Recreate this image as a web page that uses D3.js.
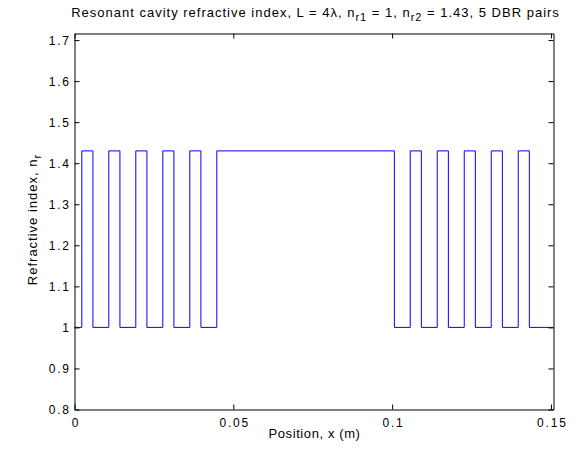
<!DOCTYPE html>
<html>
<head>
<meta charset="utf-8">
<script src="https://cdn.jsdelivr.net/npm/d3@7"></script>
<style>
  html, body { margin: 0; padding: 0; background: #fff; }
  svg { display: block; font-family: "Liberation Sans", Arial, Helvetica, sans-serif; }
</style>
</head>
<body>
<svg id="chart" width="576" height="451"></svg>
<script>
// Step profile: position where each layer starts, and its refractive index
const positions = [0, 0.0023, 0.0058, 0.0108, 0.0143, 0.0193, 0.0228, 0.0278, 0.0313, 0.0363, 0.0398,
                   0.0448, 0.1007, 0.1057, 0.1092, 0.1142, 0.1177, 0.1227, 0.1262, 0.1312, 0.1347, 0.1397, 0.1432, 0.1508];
const indexValues = [1, 1.43, 1, 1.43, 1, 1.43, 1, 1.43, 1, 1.43, 1,
                     1.43, 1, 1.43, 1, 1.43, 1, 1.43, 1, 1.43, 1, 1.43, 1, 1];
const xTicks = [0, 0.05, 0.1, 0.15];
const xTickLabels = ["0", "0.05", "0.1", "0.15"];
const yTicks = [0.8, 0.9, 1.0, 1.1, 1.2, 1.3, 1.4, 1.5, 1.6, 1.7];
const yTickLabels = ["0.8", "0.9", "1", "1.1", "1.2", "1.3", "1.4", "1.5", "1.6", "1.7"];
const xDomain = [0, 0.1508];
const yDomain = [0.8, 1.716];

const svg = d3.select("#chart");
const mLeft = 74.5, mRight = 553.5, mTop = 33.5, mBottom = 409.5;

const x = d3.scaleLinear().domain(xDomain).range([mLeft, mRight]);
const y = d3.scaleLinear().domain(yDomain).range([mBottom, mTop]);

svg.append("rect").attr("width", 576).attr("height", 451).attr("fill", "#fff");

// data line
const pts = positions.map((p, i) => [p, indexValues[i]]);
const line = d3.line().x(d => x(d[0])).y(d => y(d[1])).curve(d3.curveStepAfter);
svg.append("path").datum(pts)
  .attr("d", line)
  .attr("fill", "none")
  .attr("stroke", "#0000ff")
  .attr("stroke-width", 1);

const tickLen = 5;
const axisColor = "#000";
const tickLS = 1.8;

const xAxisB = d3.axisBottom(x).tickValues(xTicks).tickFormat((d, i) => xTickLabels[i])
  .tickSizeInner(-tickLen).tickSizeOuter(0).tickPadding(9);
const gB = svg.append("g").attr("transform", `translate(0,${mBottom})`).call(xAxisB);
const xAxisT = d3.axisTop(x).tickValues(xTicks).tickFormat("")
  .tickSizeInner(-tickLen).tickSizeOuter(0);
const gT = svg.append("g").attr("transform", `translate(0,${mTop})`).call(xAxisT);

const yAxisL = d3.axisLeft(y).tickValues(yTicks).tickFormat((d, i) => yTickLabels[i])
  .tickSizeInner(-tickLen).tickSizeOuter(0).tickPadding(5.5 - tickLS);
const gL = svg.append("g").attr("transform", `translate(${mLeft},0)`).call(yAxisL);
const yAxisR = d3.axisRight(y).tickValues(yTicks).tickFormat("")
  .tickSizeInner(-tickLen).tickSizeOuter(0);
const gR = svg.append("g").attr("transform", `translate(${mRight},0)`).call(yAxisR);

[gB, gT, gL, gR].forEach(g => {
  g.select(".domain").attr("stroke", axisColor).attr("stroke-width", 1);
  g.selectAll(".tick line").attr("stroke", axisColor);
  g.selectAll(".tick text").attr("fill", "#000")
    .style("font-size", "12px")
    .style("letter-spacing", tickLS + "px")
    .style("font-family", "'Liberation Sans', Arial, Helvetica, sans-serif");
});
gB.selectAll(".tick text").attr("dx", tickLS / 2);
gL.selectAll(".tick text").attr("dy", "0.36em");

// Title with subscripts
const title = svg.append("text")
  .attr("x", 315 + 0.5).attr("y", 16.5)
  .attr("text-anchor", "middle")
  .style("font-size", "13px").style("letter-spacing", "1px").attr("fill", "#000");
title.append("tspan").text("Resonant cavity refractive index, L = 4λ, n");
title.append("tspan").attr("dy", 4).style("font-size", "11px").text("r1");
title.append("tspan").attr("dy", -4).text(" = 1, n");
title.append("tspan").attr("dy", 4).style("font-size", "11px").text("r2");
title.append("tspan").attr("dy", -4).text(" = 1.43, 5 DBR pairs");

// X label
svg.append("text")
  .attr("x", (mLeft + mRight) / 2 + 0.5).attr("y", 437.5)
  .attr("text-anchor", "middle")
  .style("font-size", "13px").style("letter-spacing", "0.6px").attr("fill", "#000")
  .text("Position, x (m)");

// Y label
const yl = svg.append("text")
  .attr("transform", `translate(37,${(mTop + mBottom) / 2 - 2}) rotate(-90)`)
  .attr("text-anchor", "middle")
  .style("font-size", "13px").style("letter-spacing", "1px").attr("fill", "#000");
yl.append("tspan").text("Refractive index, n");
yl.append("tspan").attr("dy", 4).style("font-size", "11px").text("r");
</script>
</body>
</html>
